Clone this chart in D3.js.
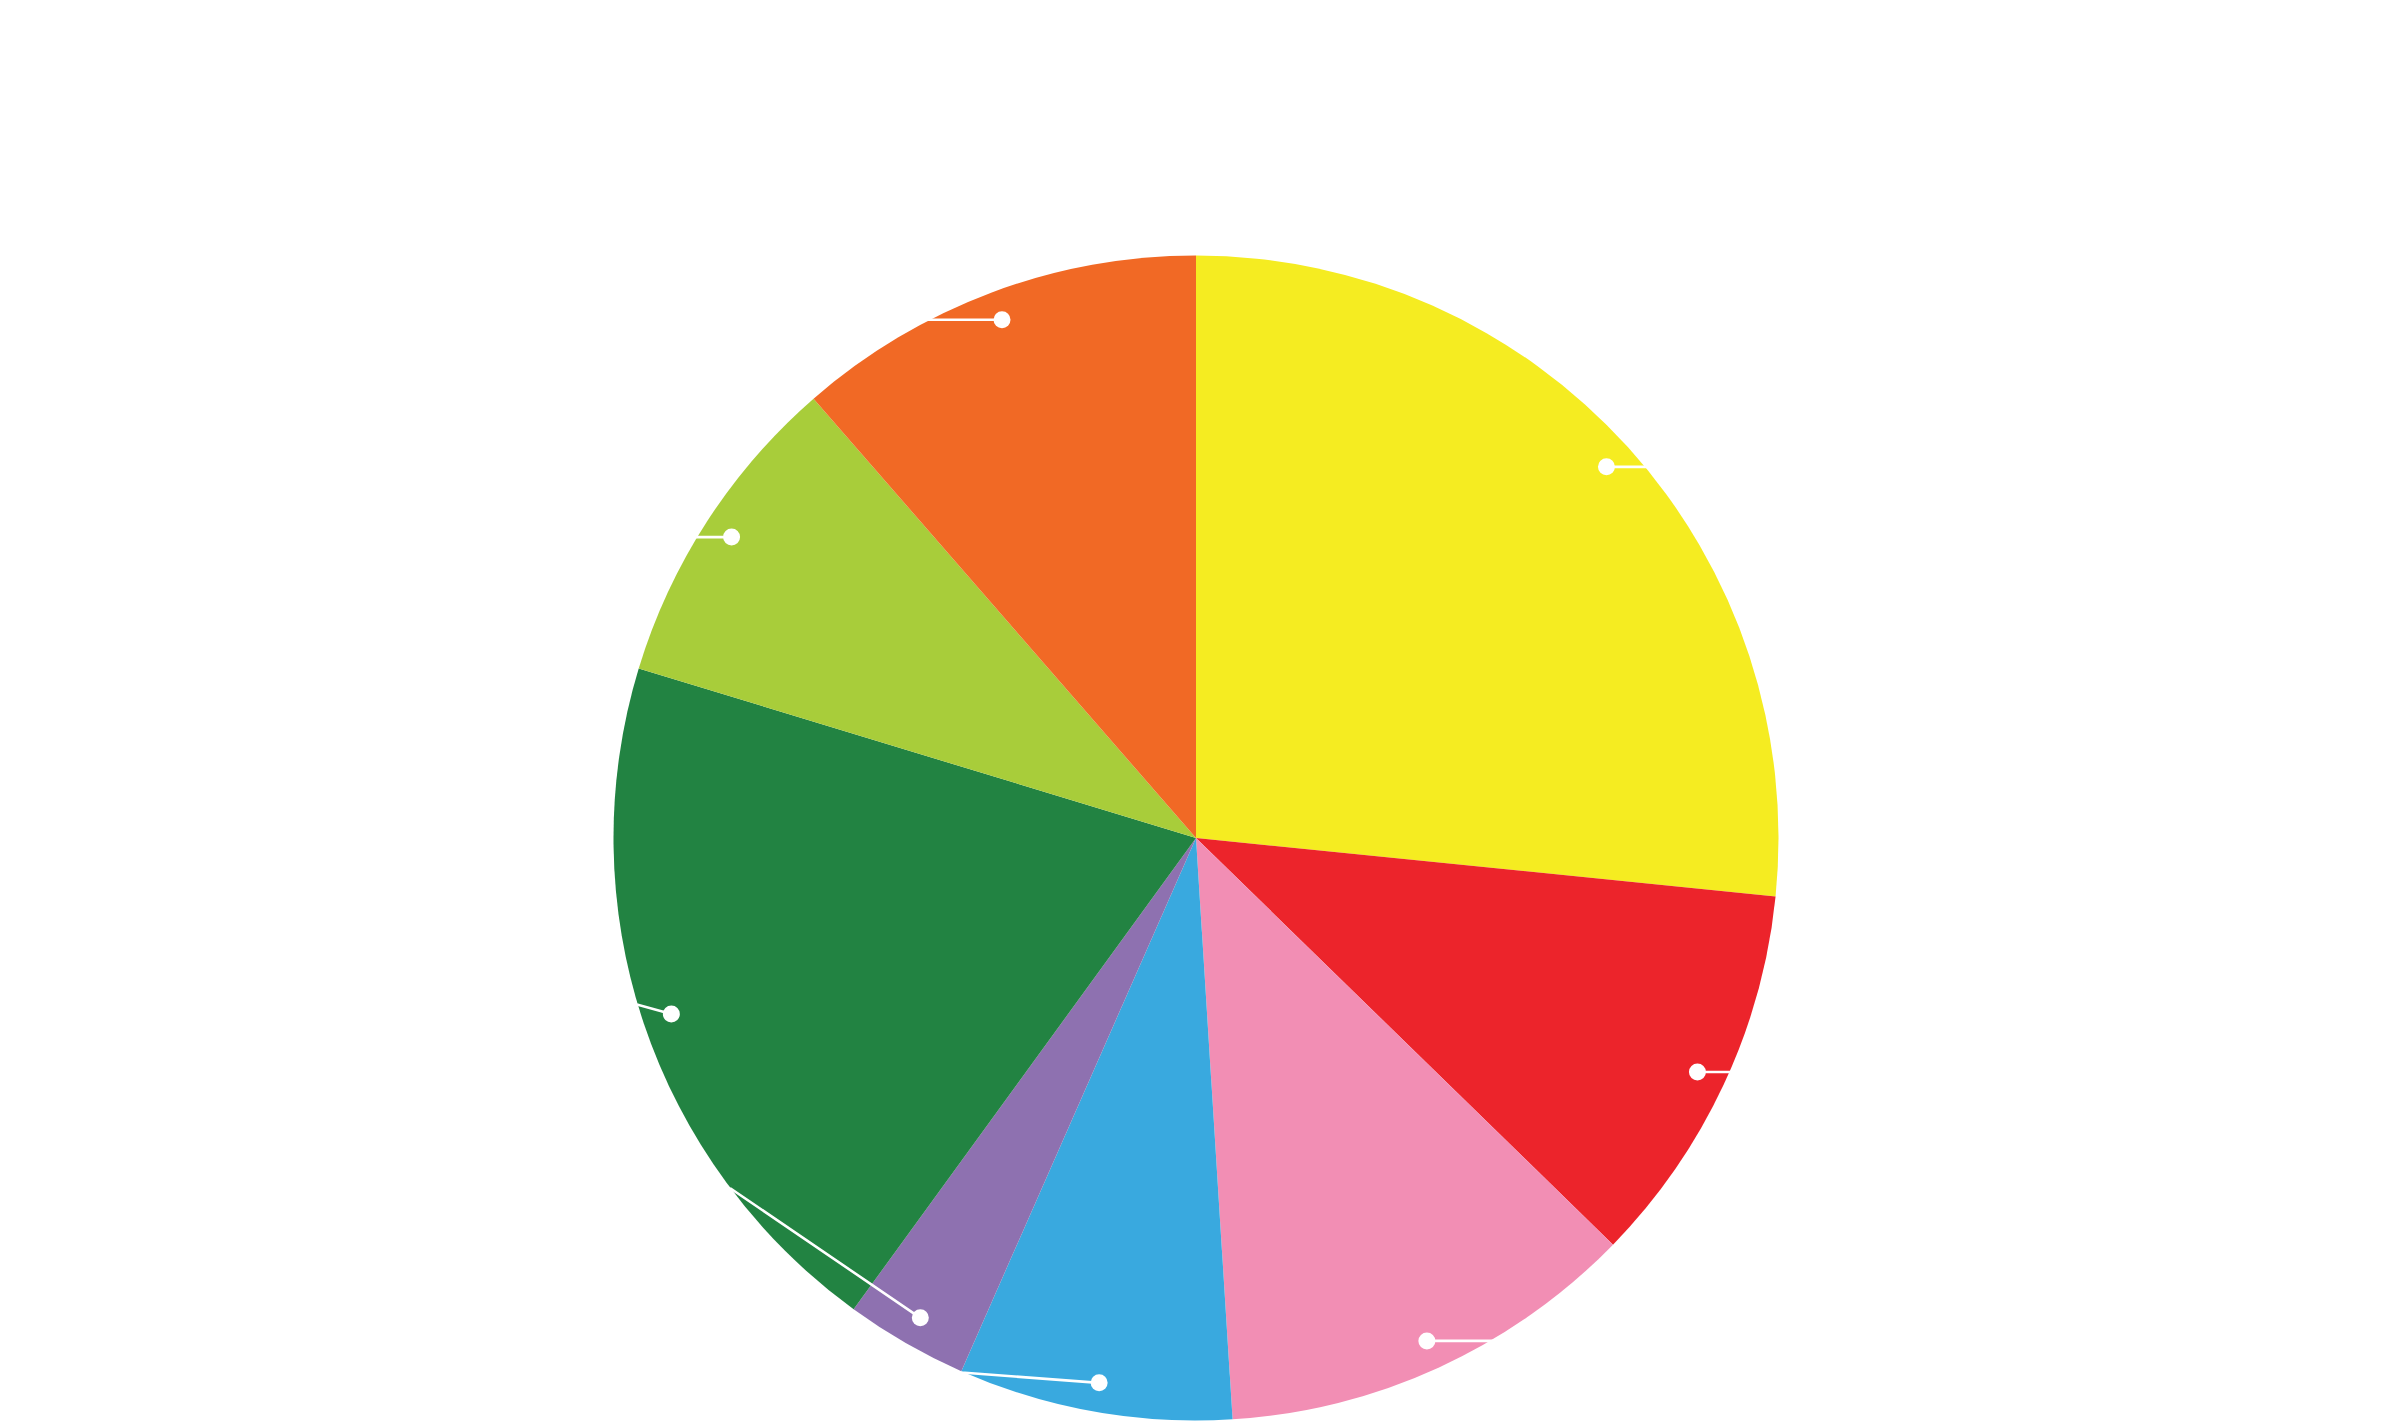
<!DOCTYPE html>
<html>
<head>
<meta charset="utf-8">
<script src="https://cdn.jsdelivr.net/npm/d3@7"></script>
<style>
html,body{margin:0;padding:0;background:#fff;}
svg{display:block;}
</style>
</head>
<body>
<svg id="chart" width="2394" height="1422"></svg>
<script>
// Data (share of total, clockwise from 12 o'clock)
const categories = ["Category A","Category B","Category C","Category D","Category E","Category F","Category G","Category H"];
const values = [26.6, 10.7, 11.7, 7.6, 3.4, 19.7, 8.9, 11.4];
const colors = ["#F5EC21","#EC242B","#F28EB4","#39A9DF","#8E71B0","#228342","#A8CD3A","#F16925"];

const W = 2394, H = 1422;
const cx = 1196, cy = 838, R = 582.5;
const svg = d3.select("#chart");
const g = svg.append("g").attr("transform", `translate(${cx},${cy})`);

const data = categories.map((c,i)=>({name:c, value:values[i], color:colors[i]}));
const pie = d3.pie().value(d=>d.value).sort(null);
const arcs = pie(data);
const arc = d3.arc().innerRadius(0).outerRadius(R);

g.selectAll("path.slice").data(arcs).join("path")
  .attr("class","slice")
  .attr("d", arc)
  .attr("fill", d=>d.data.color);

// Label anchor layout: dot at 0.95R on mid-angle, label y resolved for overlaps
const dotArc = d3.arc().innerRadius(R*0.95).outerRadius(R*0.95);
const minGap = 184, maxY = R*0.918;
const labels = arcs.map(a=>{
  const [x,y] = dotArc.centroid(a);
  const mid = (a.startAngle+a.endAngle)/2;
  return {a, x, y, side: Math.sin(mid) >= 0 ? 1 : -1, ly: Math.min(y, maxY)};
});
[1,-1].forEach(side=>{
  const s = labels.filter(l=>l.side===side).sort((p,q)=>q.ly-p.ly);
  for(let i=1;i<s.length;i++){
    if(s[i-1].ly - s[i].ly < minGap) s[i].ly = Math.min(s[i].ly, s[i-1].ly - minGap);
  }
});
labels.forEach(l=>{
  const ex = l.side*Math.sqrt(Math.max(0, R*R - l.ly*l.ly));
  l.pts = [[l.x,l.y],[ex,l.ly],[ex + l.side*40, l.ly]];
});

const line = d3.line();
g.selectAll("path.leader").data(labels).join("path")
  .attr("class","leader")
  .attr("d", d=>line(d.pts))
  .attr("fill","none")
  .attr("stroke","#fff")
  .attr("stroke-width",2.6);

g.selectAll("circle.dot").data(labels).join("circle")
  .attr("class","dot")
  .attr("cx", d=>d.x).attr("cy", d=>d.y)
  .attr("r", 8.5)
  .attr("fill","#fff");
</script>
</body>
</html>
